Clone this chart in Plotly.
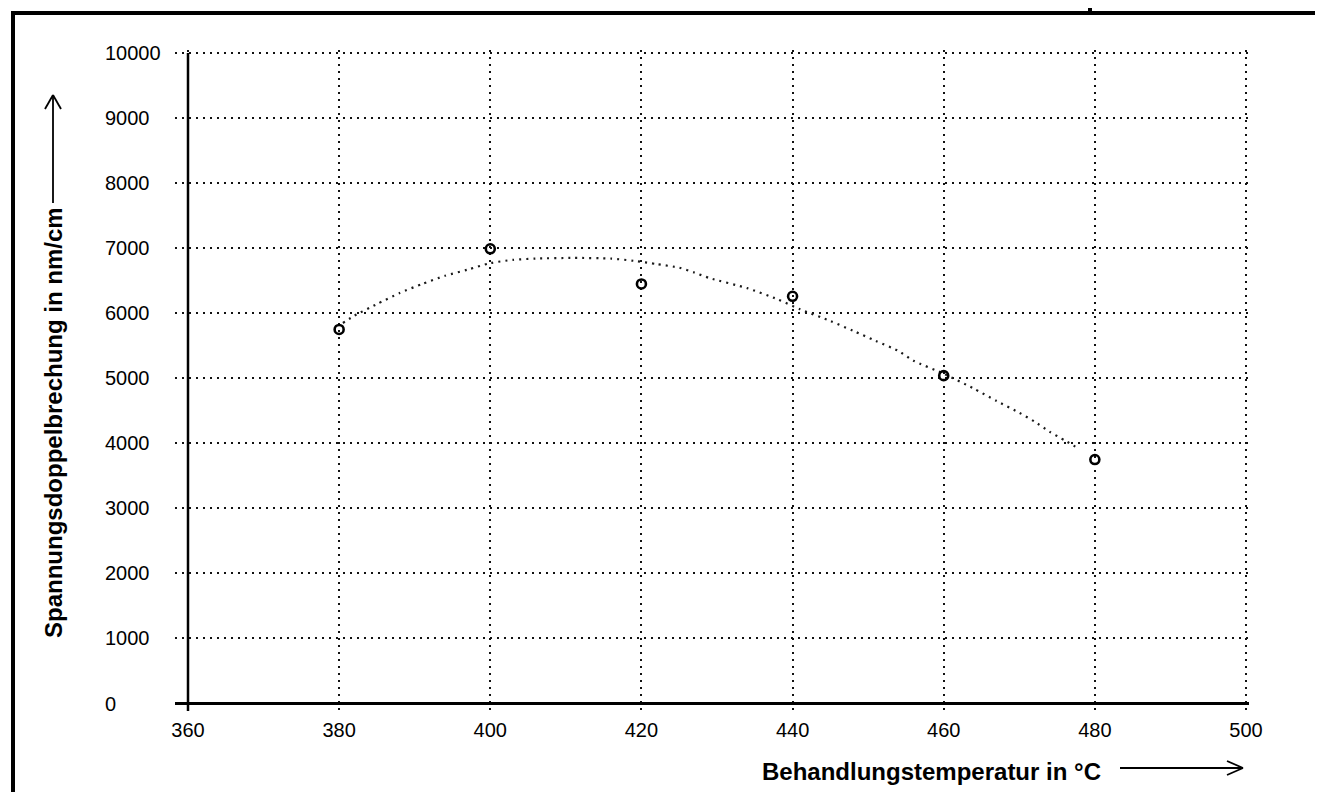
import plotly.graph_objects as go

# ---- data ----
temperatures = [380, 400, 420, 440, 460, 480]
birefringence = [5750, 6990, 6450, 6260, 5040, 3750]

# dotted trend curve
curve_temp = [380.5, 382, 385, 388, 391, 394, 397, 400, 403, 406, 411, 416, 419,
              422, 425, 427, 429, 434, 438, 441, 445, 448, 451, 454, 456, 460,
              464, 467, 470, 472, 474, 476, 478]
curve_val = [5850, 5960, 6140, 6310, 6450, 6575, 6670, 6770, 6820, 6840, 6850,
             6840, 6805, 6755, 6700, 6625, 6540, 6385, 6215, 6060, 5880, 5730,
             5575, 5420, 5270, 5070, 4840, 4650, 4470, 4335, 4180, 4045, 3910]

x_ticks = [360, 380, 400, 420, 440, 460, 480, 500]
y_ticks = [0, 1000, 2000, 3000, 4000, 5000, 6000, 7000, 8000, 9000, 10000]

x_title = "Behandlungstemperatur in °C"
y_title = "Spannungsdoppelbrechung in nm/cm"

# ---- layout geometry (pixels) ----
W, H = 1323, 792
X0P, X1P = 180.0, 1238.0     # pixel of first / last x tick
Y0P, Y1P = 695.5, 45.0       # pixel of first / last y tick
L, R, T, B = 167, 1241, 42, 703      # plot area edges in px
PW, PH = R - L, B - T

xs = (x_ticks[-1] - x_ticks[0]) / (X1P - X0P)   # units per px
ys = (y_ticks[-1] - y_ticks[0]) / (Y0P - Y1P)
x_range = [x_ticks[0] - (X0P - L) * xs, x_ticks[-1] + (R - X1P) * xs]
y_range = [y_ticks[0] - (B - Y0P) * ys, y_ticks[-1] + (Y1P - T) * ys]

def px(xp):
    return (xp - L) / PW

def py(yp):
    return (B - yp) / PH

FONT = "Liberation Sans, Arial, sans-serif"
DOT = "2px,5px"

fig = go.Figure()

fig.add_trace(go.Scatter(
    x=curve_temp, y=curve_val, mode="lines",
    line=dict(color="#1a1a1a", width=2.2, dash=DOT, shape="spline", smoothing=0.6),
    hoverinfo="skip", showlegend=False))

fig.add_trace(go.Scatter(
    x=temperatures, y=birefringence, mode="markers",
    marker=dict(symbol="circle-open", size=9, color="black",
                line=dict(color="black", width=2.6)),
    showlegend=False))

shapes = []
# y-axis solid line at 360
shapes.append(dict(type="line", xref="x", yref="y", x0=x_ticks[0], x1=x_ticks[0],
                   y0=y_range[0], y1=y_ticks[-1], line=dict(color="black", width=2.5)))
# outer frame
fw = 4
shapes.append(dict(type="line", xref="paper", yref="paper", x0=px(5), x1=px(5),
                   y0=py(5), y1=py(800), line=dict(color="black", width=fw)))
shapes.append(dict(type="line", xref="paper", yref="paper", x0=px(3), x1=px(1319),
                   y0=py(5), y1=py(5), line=dict(color="black", width=fw)))
shapes.append(dict(type="line", xref="paper", yref="paper", x0=px(1317), x1=px(1317),
                   y0=py(5), y1=py(800), line=dict(color="black", width=fw)))
shapes.append(dict(type="line", xref="paper", yref="paper", x0=px(1082), x1=px(1082),
                   y0=py(-2), y1=py(5), line=dict(color="black", width=fw)))
# x-title arrow
aw = 1.8
shapes.append(dict(type="line", xref="paper", yref="paper", x0=px(1112), x1=px(1235),
                   y0=py(760), y1=py(760), line=dict(color="black", width=aw)))
shapes.append(dict(type="line", xref="paper", yref="paper", x0=px(1219), x1=px(1235),
                   y0=py(753), y1=py(760), line=dict(color="black", width=aw)))
shapes.append(dict(type="line", xref="paper", yref="paper", x0=px(1219), x1=px(1235),
                   y0=py(767), y1=py(760), line=dict(color="black", width=aw)))
# y-title arrow
shapes.append(dict(type="line", xref="paper", yref="paper", x0=px(45), x1=px(45),
                   y0=py(195), y1=py(87), line=dict(color="black", width=aw)))
shapes.append(dict(type="line", xref="paper", yref="paper", x0=px(37), x1=px(45),
                   y0=py(101), y1=py(87), line=dict(color="black", width=aw)))
shapes.append(dict(type="line", xref="paper", yref="paper", x0=px(53), x1=px(45),
                   y0=py(101), y1=py(87), line=dict(color="black", width=aw)))

annotations = []
for v in y_ticks:
    annotations.append(dict(xref="paper", yref="y", x=px(95), y=v, text=str(v),
                            xanchor="left", yanchor="middle", showarrow=False,
                            font=dict(family=FONT, size=20, color="black")))
annotations.append(dict(xref="paper", yref="paper", x=px(923), y=py(763),
                        text=x_title, showarrow=False, xanchor="center", yanchor="middle",
                        font=dict(family=FONT, size=24, color="black", weight="bold")))
annotations.append(dict(xref="paper", yref="paper", x=px(45), y=py(415), textangle=-90,
                        text=y_title, showarrow=False, xanchor="center", yanchor="middle",
                        font=dict(family=FONT, size=24, color="black", weight="bold")))

fig.update_layout(
    width=W, height=H,
    margin=dict(l=L, r=W - R, t=T, b=H - B, autoexpand=False),
    paper_bgcolor="white", plot_bgcolor="white",
    shapes=shapes, annotations=annotations,
    hovermode=False,
    xaxis=dict(range=x_range,
               tickvals=x_ticks, ticktext=[str(t) for t in x_ticks],
               showgrid=True, griddash=DOT, gridcolor="#111", gridwidth=1.6,
               zeroline=False, showline=False, ticks="",
               ticklabelstandoff=5,
               tickfont=dict(family=FONT, size=20, color="black")),
    yaxis=dict(range=y_range, tickvals=y_ticks,
               showticklabels=False,
               showgrid=True, griddash=DOT, gridcolor="#111", gridwidth=1.6,
               zeroline=True, zerolinecolor="black", zerolinewidth=3,
               showline=False, ticks=""),
)

fig.write_html("out.html")
